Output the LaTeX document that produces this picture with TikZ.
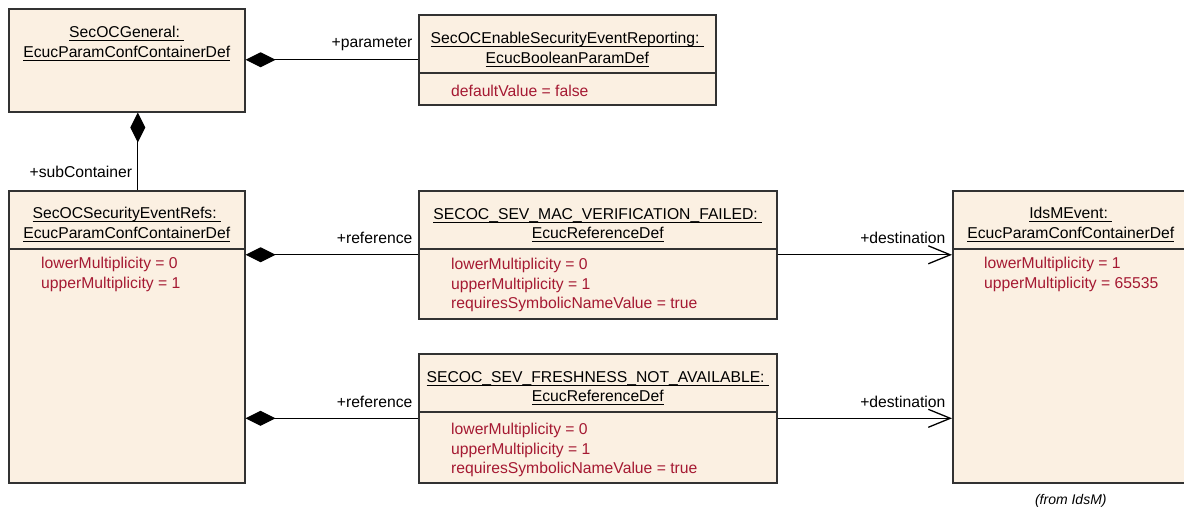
\documentclass[tikz,border=0pt]{standalone}
\usepackage{fontspec}
\setmainfont{Liberation Sans}
\usetikzlibrary{positioning,arrows.meta}

\definecolor{boxfill}{RGB}{251,240,226}
\definecolor{boxline}{RGB}{50,50,50}
\definecolor{attrred}{RGB}{165,25,50}

\newcommand{\ulname}[1]{{\setbox0\hbox{#1}\dp0=0pt\vtop{\copy0\kern2.6pt\hrule height 1.2pt}}}

\tikzset{
  umlbox/.style={draw=boxline,fill=boxfill,line width=1.6pt,inner sep=0pt,anchor=north west},
  umltitle/.style={inner sep=0pt,align=center},
  umlattr/.style={inner sep=0pt,align=left,text=attrred},
  composition/.style={{Diamond[length=30pt,width=15pt]}-,line width=1.3pt,draw=black},
  assoc/.style={-{Straight Barb[length=22pt,width=18pt]},line width=1.3pt,draw=black},
  rolename/.style={inner sep=0pt,anchor=base east},
  sepline/.style={draw=boxline,line width=1.6pt}
}

\begin{document}
\begin{tikzpicture}[x=1pt,y=-1pt,font=\fontsize{15.7}{19.5}\selectfont]
  \useasboundingbox (0,0) rectangle (1184,508);

  % containers and parameters
  \node[umlbox,minimum width=236pt,minimum height=103pt] (gen) at (8,8) {};
  \node[umlbox,minimum width=297pt,minimum height=90pt] (enable) at (418,14) {};
  \node[umlbox,minimum width=236pt,minimum height=292pt] (refs) at (8,190) {};
  \node[umlbox,minimum width=358pt,minimum height=128pt] (macfail) at (418,190) {};
  \node[umlbox,minimum width=358pt,minimum height=129pt] (fresh) at (418,353) {};
  \node[umlbox,minimum width=236pt,minimum height=292pt] (idsm) at (952,190) {};

  % compartments
  \draw[sepline] ([yshift=-59pt]enable.north west) -- ([yshift=-59pt]enable.north east);
  \draw[sepline] ([yshift=-59pt]refs.north west) -- ([yshift=-59pt]refs.north east);
  \draw[sepline] ([yshift=-59pt]macfail.north west) -- ([yshift=-59pt]macfail.north east);
  \draw[sepline] ([yshift=-59pt]fresh.north west) -- ([yshift=-59pt]fresh.north east);
  \draw[sepline] ([yshift=-59pt]idsm.north west) -- ([yshift=-59pt]idsm.north east);

  % titles
  \node[umltitle,below=18pt of gen.north] (gentitle) {\ulname{SecOCGeneral:\ }\\\ulname{EcucParamConfContainerDef}};
  \node[umltitle,below=18pt of enable.north] (enabletitle) {\ulname{SecOCEnableSecurityEventReporting:\ }\\\ulname{EcucBooleanParamDef}};
  \node[umltitle,below=17pt of refs.north] (refstitle) {\ulname{SecOCSecurityEventRefs:\ }\\\ulname{EcucParamConfContainerDef}};
  \node[umltitle,below=18pt of macfail.north] (mactitle) {\ulname{SECOC\_SEV\_MAC\_VERIFICATION\_FAILED:\ }\\\ulname{EcucReferenceDef}};
  \node[umltitle,below=18pt of fresh.north] (freshtitle) {\ulname{SECOC\_SEV\_FRESHNESS\_NOT\_AVAILABLE:\ }\\\ulname{EcucReferenceDef}};
  \node[umltitle,below=17pt of idsm.north] (idsmtitle) {\ulname{IdsMEvent:\ }\\\ulname{EcucParamConfContainerDef}};

  % attributes
  \node[umlattr,below right=71pt and 33pt of enable.north west] (enableattr) {defaultValue = false};
  \node[umlattr,below right=67pt and 33pt of refs.north west] (refsattr) {lowerMultiplicity = 0\\upperMultiplicity = 1};
  \node[umlattr,below right=68pt and 33pt of macfail.north west] (macattr) {lowerMultiplicity = 0\\upperMultiplicity = 1\\requiresSymbolicNameValue = true};
  \node[umlattr,below right=70pt and 33pt of fresh.north west] (freshattr) {lowerMultiplicity = 0\\upperMultiplicity = 1\\requiresSymbolicNameValue = true};
  \node[umlattr,below right=67pt and 32pt of idsm.north west] (idsmattr) {lowerMultiplicity = 1\\upperMultiplicity = 65535};

  \node[inner sep=0pt,below=11pt of idsm.south,font=\fontsize{14}{16}\selectfont\itshape] (fromidsm) {(from IdsM)};

  % connectors
  \coordinate (subtop) at ([xshift=11pt]refs.north);
  \draw[composition] ([xshift=11pt]gen.south) -- (subtop) node[rolename,xshift=-5pt,yshift=12pt] {+subContainer};
  \draw[composition] (gen.east |- enable.west) -- (enable.west) node[rolename,xshift=-5pt,yshift=12pt] {+parameter};
  \draw[composition] (refs.east |- macfail.west) -- (macfail.west) node[rolename,xshift=-5pt,yshift=11pt] {+reference};
  \draw[composition] (refs.east |- fresh.west) -- (fresh.west) node[rolename,xshift=-5pt,yshift=11pt] {+reference};
  \draw[assoc] (macfail.east) -- (idsm.west |- macfail.east) node[rolename,xshift=-6pt,yshift=11pt] {+destination};
  \draw[assoc] (fresh.east) -- (idsm.west |- fresh.east) node[rolename,xshift=-6pt,yshift=11pt] {+destination};
\end{tikzpicture}
\end{document}
